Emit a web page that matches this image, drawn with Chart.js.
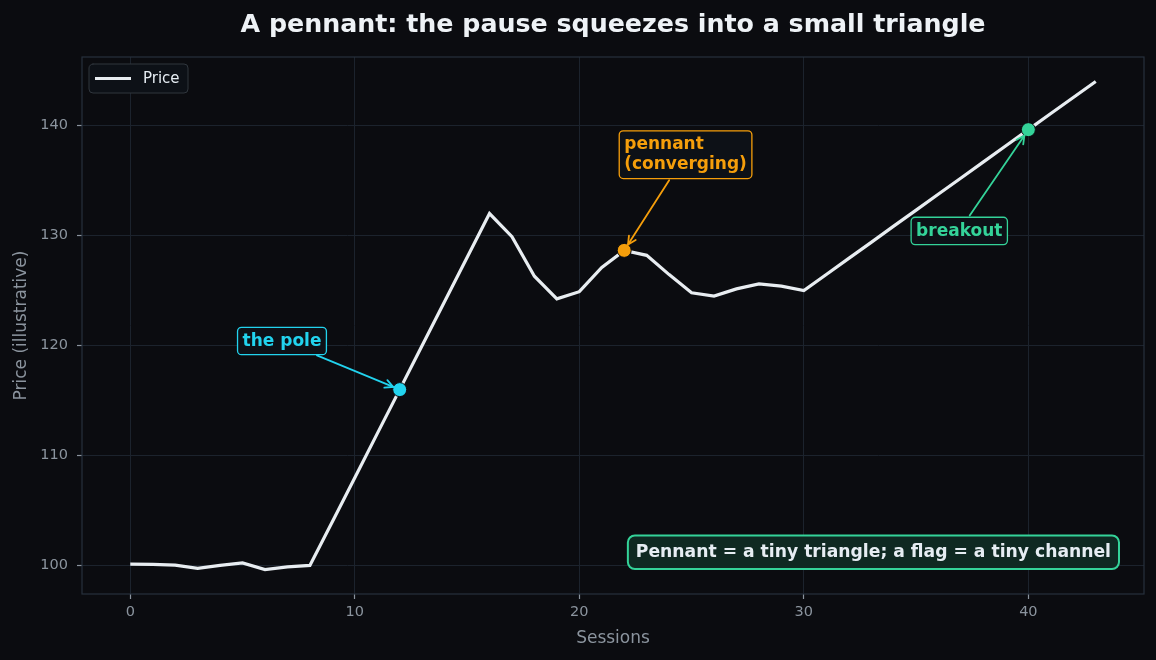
<!DOCTYPE html>
<html>
<head>
<meta charset="utf-8">
<script src="https://cdn.jsdelivr.net/npm/chart.js@4.4.1/dist/chart.umd.min.js"></script>
<style>
    html, body { margin: 0; padding: 0; background: #0b0c10; }
</style>
</head>
<body>
<canvas id="pennant_chart" width="1156" height="660"></canvas>
<script>
// chart data
var sessions = [0, 1, 2, 3, 4, 5, 6, 7, 8, 9, 10, 11, 12, 13, 14, 15, 16, 17, 18, 19, 20, 21,
    22, 23, 24, 25, 26, 27, 28, 29, 30, 31, 32, 33, 34, 35, 36, 37, 38, 39, 40, 41, 42, 43];
var price = [100.15, 100.12, 100.06, 99.76, 100.03, 100.25, 99.65, 99.9, 100.03,
    104, 108, 112, 116, 120, 124, 128, 132,
    129.9, 126.3, 124.25, 124.9, 127.1, 128.65, 128.2, 126.45, 124.8, 124.5, 125.15, 125.6, 125.4, 125.0,
    126.46, 127.92, 129.38, 130.85, 132.31, 133.77, 135.23, 136.69, 138.15, 139.62, 141.08, 142.54, 144.0];
var x_ticks = [0, 10, 20, 30, 40];
var y_ticks = [100, 110, 120, 130, 140];

var callout_labels = [['the pole'], ['pennant', '(converging)'], ['breakout']];
var callout_sessions = [12, 22, 40];
var callout_colors = ['#22d3ee', '#f59e0b', '#34d399'];
// where each label text sits (session, price)
var callout_text_at = [[5, 120], [22, 136], [35, 130]];

var note_text = 'Pennant = a tiny triangle; a flag = a tiny channel';

var BG = '#0b0c10';
var LINE = '#e8edf1';
var MUTED = '#8b949e';
var FONT = '"DejaVu Sans", sans-serif';

function roundRect(ctx, x, y, w, h, r) {
    ctx.beginPath();
    ctx.moveTo(x + r, y);
    ctx.lineTo(x + w - r, y);
    ctx.arcTo(x + w, y, x + w, y + r, r);
    ctx.lineTo(x + w, y + h - r);
    ctx.arcTo(x + w, y + h, x + w - r, y + h, r);
    ctx.lineTo(x + r, y + h);
    ctx.arcTo(x, y + h, x, y + h - r, r);
    ctx.lineTo(x, y + r);
    ctx.arcTo(x, y, x + r, y, r);
    ctx.closePath();
}

function textBox(ctx, lines, x, lastBaseline, size, color, pad) {
    ctx.font = 'bold ' + size + 'px ' + FONT;
    var lh = size * 1.2;
    var w = 0;
    lines.forEach(function (l) { w = Math.max(w, ctx.measureText(l).width); });
    var firstBaseline = lastBaseline - lh * (lines.length - 1);
    var box = {
        l: x - pad, r: x + w + pad,
        t: firstBaseline - size * 0.78 - pad, b: lastBaseline + size * 0.24 + pad
    };
    roundRect(ctx, box.l, box.t, box.r - box.l, box.b - box.t, 4);
    ctx.fillStyle = '#0d1117';
    ctx.fill();
    ctx.lineWidth = 1.3;
    ctx.strokeStyle = color;
    ctx.stroke();
    ctx.fillStyle = color;
    ctx.textAlign = 'left';
    ctx.textBaseline = 'alphabetic';
    lines.forEach(function (l, i) { ctx.fillText(l, x, firstBaseline + i * lh); });
    return box;
}

function arrow(ctx, box, tx, ty, color) {
    var cx = (box.l + box.r) / 2, cy = (box.t + box.b) / 2;
    var dx = tx - cx, dy = ty - cy;
    var t = 1;
    if (dx !== 0) t = Math.min(t, ((dx > 0 ? box.r : box.l) - cx) / dx);
    if (dy !== 0) t = Math.min(t, ((dy > 0 ? box.b : box.t) - cy) / dy);
    var len = Math.sqrt(dx * dx + dy * dy);
    var ux = dx / len, uy = dy / len;
    var sx = cx + dx * t + ux * 2, sy = cy + dy * t + uy * 2;
    var ex = tx - ux * 7, ey = ty - uy * 7;
    ctx.strokeStyle = color;
    ctx.lineWidth = 1.8;
    ctx.lineCap = 'round';
    ctx.beginPath();
    ctx.moveTo(sx, sy);
    ctx.lineTo(ex, ey);
    ctx.stroke();
    var hl = 8, hw = 4;
    ctx.beginPath();
    ctx.moveTo(ex - ux * hl - uy * hw, ey - uy * hl + ux * hw);
    ctx.lineTo(ex, ey);
    ctx.lineTo(ex - ux * hl + uy * hw, ey - uy * hl - ux * hw);
    ctx.stroke();
}

var decor = {
    id: 'decor',
    beforeDraw: function (chart) {
        var ctx = chart.ctx;
        ctx.save();
        ctx.fillStyle = BG;
        ctx.fillRect(0, 0, chart.width, chart.height);
        ctx.restore();
    },
    beforeDatasetsDraw: function (chart) {
        var ctx = chart.ctx, a = chart.chartArea;
        ctx.save();
        ctx.strokeStyle = '#27313c';
        ctx.lineWidth = 1.2;
        ctx.strokeRect(a.left, a.top, a.right - a.left, a.bottom - a.top);
        ctx.restore();
    },
    afterDatasetsDraw: function (chart) {
        var ctx = chart.ctx, a = chart.chartArea;
        var xs = chart.scales.x, ys = chart.scales.y;
        ctx.save();

        // callouts
        callout_labels.forEach(function (lines, i) {
            var at = callout_sessions[i];
            var px = xs.getPixelForValue(sessions[at]);
            var py = ys.getPixelForValue(price[at]);
            var box = textBox(ctx, lines, xs.getPixelForValue(callout_text_at[i][0]),
                ys.getPixelForValue(callout_text_at[i][1]), 17, callout_colors[i], 5);
            arrow(ctx, box, px, py, callout_colors[i]);
        });

        // note box bottom right
        ctx.font = 'bold 17.2px ' + FONT;
        var nw = ctx.measureText(note_text).width;
        var pad = 8;
        var nr = a.right - 25, nb = a.bottom - 25;
        var nh = 17.2 * 1.02 + pad * 2;
        roundRect(ctx, nr - nw - pad * 2, nb - nh, nw + pad * 2, nh, 7);
        ctx.fillStyle = '#0f2922';
        ctx.fill();
        ctx.lineWidth = 2;
        ctx.strokeStyle = '#34d399';
        ctx.stroke();
        ctx.fillStyle = '#e6edf3';
        ctx.textAlign = 'right';
        ctx.textBaseline = 'alphabetic';
        ctx.fillText(note_text, nr - pad, nb - pad - 17.2 * 0.24);

        // legend
        var lx = a.left + 7, ly = a.top + 7;
        roundRect(ctx, lx, ly, 99, 29, 4);
        ctx.fillStyle = '#0d1117';
        ctx.fill();
        ctx.lineWidth = 1;
        ctx.strokeStyle = '#30363d';
        ctx.stroke();
        ctx.strokeStyle = LINE;
        ctx.lineWidth = 3;
        ctx.lineCap = 'butt';
        ctx.beginPath();
        ctx.moveTo(lx + 6, ly + 14.5);
        ctx.lineTo(lx + 42, ly + 14.5);
        ctx.stroke();
        ctx.font = '15px ' + FONT;
        ctx.fillStyle = '#e6edf3';
        ctx.textAlign = 'left';
        ctx.textBaseline = 'middle';
        ctx.fillText('Price', lx + 54, ly + 15);

        // title
        ctx.font = 'bold 25.3px ' + FONT;
        ctx.fillStyle = '#eef2f6';
        ctx.textAlign = 'center';
        ctx.textBaseline = 'alphabetic';
        ctx.fillText('A pennant: the pause squeezes into a small triangle', (a.left + a.right) / 2, 32);
        ctx.restore();
    }
};

var datasets = [{
    label: 'Price',
    data: sessions.map(function (s, i) { return {x: s, y: price[i]}; }),
    borderColor: LINE,
    borderWidth: 3.2,
    pointRadius: 0,
    tension: 0,
    order: 2
}];
callout_sessions.forEach(function (at, i) {
    datasets.push({
        type: 'scatter',
        label: callout_labels[i].join(' '),
        data: [{x: sessions[at], y: price[at]}],
        backgroundColor: callout_colors[i],
        borderColor: BG,
        borderWidth: 1,
        pointRadius: 7,
        order: 1
    });
});

var ctx_pennant = document.getElementById('pennant_chart').getContext('2d');
var pennant_chart = new Chart(ctx_pennant, {
    type: 'line',
    data: {datasets: datasets},
    plugins: [decor],
    options: {
        responsive: false,
        animation: false,
        events: [],
        layout: {padding: {top: 57, right: 12, bottom: 0, left: 0}},
        plugins: {
            legend: {display: false},
            title: {display: false},
            tooltip: {enabled: false}
        },
        scales: {
            x: {
                type: 'linear',
                min: -2.15,
                max: 45.15,
                afterBuildTicks: function (scale) {
                    scale.ticks = x_ticks.map(function (v) { return {value: v}; });
                },
                afterFit: function (scale) { scale.height = 66; },
                grid: {color: '#1c232d', lineWidth: 1, tickLength: 5, tickColor: MUTED, tickWidth: 1.2},
                border: {display: false},
                ticks: {color: MUTED, font: {family: FONT, size: 14.5}, padding: 5, maxRotation: 0},
                title: {display: true, text: 'Sessions', color: MUTED,
                    font: {family: FONT, size: 17}, padding: {top: 0, bottom: 11}}
            },
            y: {
                min: 97.43,
                max: 146.22,
                afterBuildTicks: function (scale) {
                    scale.ticks = y_ticks.map(function (v) { return {value: v}; });
                },
                afterFit: function (scale) { scale.width = 82; },
                grid: {color: '#1c232d', lineWidth: 1, tickLength: 5, tickColor: MUTED, tickWidth: 1.2},
                border: {display: false},
                ticks: {color: MUTED, font: {family: FONT, size: 14.5}, padding: 9},
                title: {display: true, text: 'Price (illustrative)', color: MUTED,
                    font: {family: FONT, size: 17}, padding: {top: 11, bottom: 0}}
            }
        }
    }
});
</script>
</body>
</html>
